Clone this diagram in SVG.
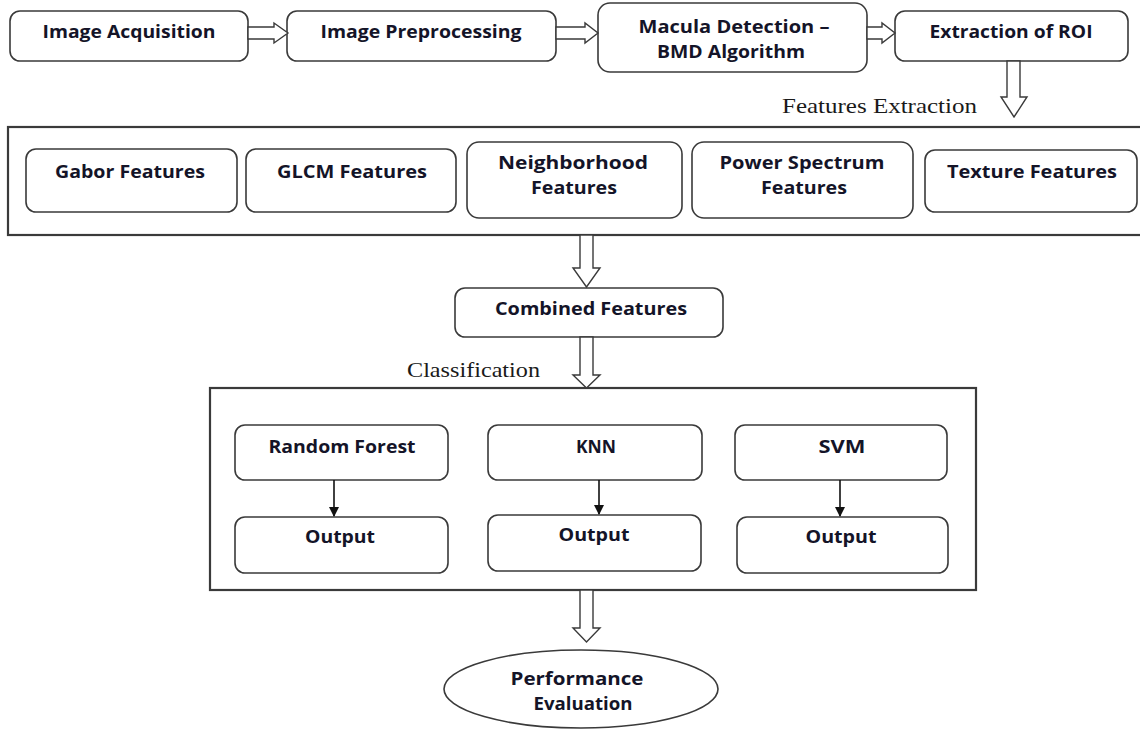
<svg xmlns="http://www.w3.org/2000/svg" width="1140" height="729" viewBox="0 0 1140 729">
  <style>
    .box { fill: #ffffff; stroke: #3a3a3a; stroke-width: 1.6; }
    .frame { fill: none; stroke: #3a3a3a; stroke-width: 2.2; }
    .lbl { font-family: "Open Sans", "Liberation Sans", sans-serif; font-weight: 700; font-size: 17px; fill: #141428; text-anchor: middle; }
    .cap { font-family: "Liberation Serif", "DejaVu Serif", serif; font-size: 21px; fill: #1a1a1a; }
    .hollow { fill: #ffffff; stroke: #3a3a3a; stroke-width: 1.4; stroke-linejoin: miter; }
    .thin { stroke: #111111; stroke-width: 1.6; fill: none; }
  </style>
  <defs>
    <marker id="tri" markerWidth="10" markerHeight="10" refX="9" refY="5" orient="auto" markerUnits="userSpaceOnUse">
      <path d="M0,0 L10,5 L0,10 Z" fill="#111111"/>
    </marker>
  </defs>
  <rect width="1140" height="729" fill="#ffffff"/>

  <!-- section frames and captions -->
  <g id="frames">
    <rect class="frame" x="8" y="127" width="1140" height="108"/>
    <rect class="frame" x="210" y="388" width="766" height="202"/>
    <text class="cap" x="782" y="113" textLength="195" lengthAdjust="spacingAndGlyphs">Features Extraction</text>
    <text class="cap" x="407" y="377" textLength="133" lengthAdjust="spacingAndGlyphs">Classification</text>
  </g>

  <!-- pipeline -->
  <g id="image-acquisition">
    <rect class="box" x="10" y="11" width="238" height="50" rx="10"/>
    <text class="lbl" x="129" y="38" textLength="173" lengthAdjust="spacingAndGlyphs">Image Acquisition</text>
  </g>
  <g id="image-preprocessing">
    <rect class="box" x="287" y="11" width="269" height="50" rx="10"/>
    <text class="lbl" x="421" y="38" textLength="201" lengthAdjust="spacingAndGlyphs">Image Preprocessing</text>
  </g>
  <g id="macula-detection">
    <rect class="box" x="598" y="3" width="269" height="69" rx="12"/>
    <text class="lbl" x="734" y="33" textLength="191" lengthAdjust="spacingAndGlyphs">Macula Detection –</text>
    <text class="lbl" x="731" y="58" textLength="148" lengthAdjust="spacingAndGlyphs">BMD Algorithm</text>
  </g>
  <g id="roi-extraction">
    <rect class="box" x="895" y="11" width="233" height="50" rx="10"/>
    <text class="lbl" x="1011" y="38" textLength="163" lengthAdjust="spacingAndGlyphs">Extraction of ROI</text>
  </g>

  <!-- feature extractors -->
  <g id="gabor">
    <rect class="box" x="26" y="149" width="211" height="63" rx="10"/>
    <text class="lbl" x="130" y="178" textLength="150" lengthAdjust="spacingAndGlyphs">Gabor Features</text>
  </g>
  <g id="glcm">
    <rect class="box" x="246" y="149" width="210" height="63" rx="10"/>
    <text class="lbl" x="352" y="178" textLength="150" lengthAdjust="spacingAndGlyphs">GLCM Features</text>
  </g>
  <g id="neighborhood">
    <rect class="box" x="467" y="142" width="215" height="76" rx="12"/>
    <text class="lbl" x="573" y="169" textLength="150" lengthAdjust="spacingAndGlyphs">Neighborhood</text>
    <text class="lbl" x="574" y="194" textLength="86" lengthAdjust="spacingAndGlyphs">Features</text>
  </g>
  <g id="power-spectrum">
    <rect class="box" x="692" y="142" width="221" height="76" rx="12"/>
    <text class="lbl" x="802" y="169" textLength="165" lengthAdjust="spacingAndGlyphs">Power Spectrum</text>
    <text class="lbl" x="804" y="194" textLength="86" lengthAdjust="spacingAndGlyphs">Features</text>
  </g>
  <g id="texture">
    <rect class="box" x="925" y="150" width="212" height="62" rx="10"/>
    <text class="lbl" x="1032" y="178" textLength="170" lengthAdjust="spacingAndGlyphs">Texture Features</text>
  </g>

  <g id="combined-features">
    <rect class="box" x="455" y="288" width="268" height="49" rx="10"/>
    <text class="lbl" x="591" y="315" textLength="192" lengthAdjust="spacingAndGlyphs">Combined Features</text>
  </g>

  <!-- classifiers -->
  <g id="random-forest">
    <rect class="box" x="235" y="425" width="213" height="55" rx="10"/>
    <text class="lbl" x="342" y="453" textLength="147" lengthAdjust="spacingAndGlyphs">Random Forest</text>
  </g>
  <g id="rf-output">
    <rect class="box" x="235" y="517" width="213" height="56" rx="10"/>
    <text class="lbl" x="340" y="543" textLength="70" lengthAdjust="spacingAndGlyphs">Output</text>
  </g>
  <g id="knn">
    <rect class="box" x="488" y="425" width="214" height="55" rx="10"/>
    <text class="lbl" x="596" y="453" textLength="40" lengthAdjust="spacingAndGlyphs">KNN</text>
  </g>
  <g id="knn-output">
    <rect class="box" x="488" y="515" width="213" height="56" rx="10"/>
    <text class="lbl" x="594" y="541" textLength="71" lengthAdjust="spacingAndGlyphs">Output</text>
  </g>
  <g id="svm">
    <rect class="box" x="735" y="425" width="212" height="55" rx="10"/>
    <text class="lbl" x="842" y="453" textLength="47" lengthAdjust="spacingAndGlyphs">SVM</text>
  </g>
  <g id="svm-output">
    <rect class="box" x="737" y="517" width="211" height="56" rx="10"/>
    <text class="lbl" x="841" y="543" textLength="71" lengthAdjust="spacingAndGlyphs">Output</text>
  </g>

  <g id="performance-evaluation">
    <ellipse class="box" cx="581" cy="689" rx="137" ry="39"/>
    <text class="lbl" x="577" y="685" textLength="133" lengthAdjust="spacingAndGlyphs">Performance</text>
    <text class="lbl" x="583" y="710" textLength="99" lengthAdjust="spacingAndGlyphs">Evaluation</text>
  </g>

  <!-- connectors -->
  <g id="connectors">
    <polygon class="hollow" points="248,27 274,27 274,23 288,33 274,43 274,39 248,39"/>
    <polygon class="hollow" points="556,27 585,27 585,23 598,33 585,43 585,39 556,39"/>
    <polygon class="hollow" points="867,27 882,27 882,23 895,33 882,43 882,39 867,39"/>
    <polygon class="hollow" points="1007,61 1020,61 1020,97 1027,97 1014,117 1001,97 1007,97"/>
    <polygon class="hollow" points="580,235 593,235 593,268 600,268 586.5,287 573,268 580,268"/>
    <polygon class="hollow" points="580,337 593,337 593,375 600,375 586.5,388 573,375 580,375"/>
    <polygon class="hollow" points="580,590 593,590 593,628 600,628 586.5,642 573,628 580,628"/>
    <line class="thin" x1="334" y1="480" x2="334" y2="516" marker-end="url(#tri)"/>
    <line class="thin" x1="599" y1="480" x2="599" y2="514" marker-end="url(#tri)"/>
    <line class="thin" x1="840" y1="480" x2="840" y2="516" marker-end="url(#tri)"/>
  </g>
</svg>
